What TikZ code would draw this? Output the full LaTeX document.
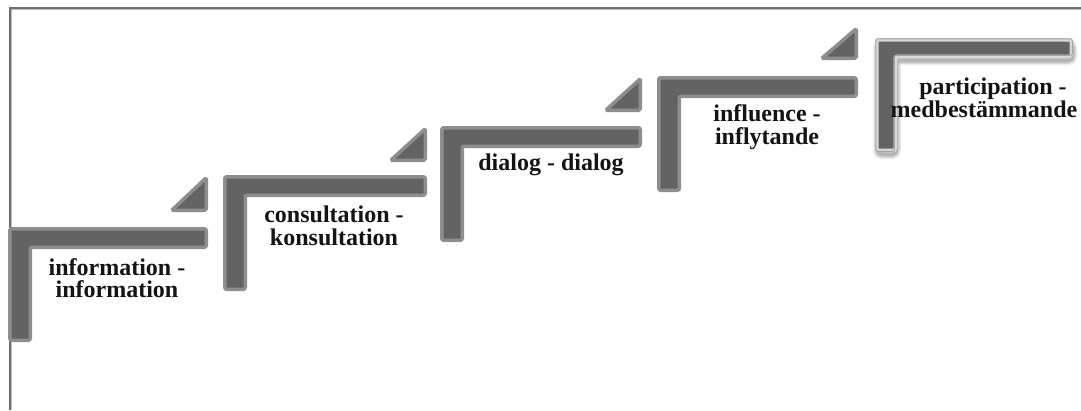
\documentclass[tikz,border=0pt]{standalone}
\usepackage{fontspec}
\setmainfont{Liberation Serif}
\definecolor{stepfill}{HTML}{636363}
\definecolor{stepline}{HTML}{8E8E8E}
\definecolor{framec}{HTML}{6E6E6E}
\definecolor{txt}{HTML}{141414}
\newcommand\stairpath[5]{% x0 y0 x1 y2 w/h inset 1.75
  (#1+1.75,#2+1.75) -- (#3-1.75,#2+1.75) -- (#3-1.75,#2+#5-1.75) -- (#1+#5+2-1.75,#2+#5-1.75) -- (#1+#5+2-1.75,#4-1.75) -- (#1+1.75,#4-1.75) -- cycle}
\newcommand\tripath[3]{% x1 ytop ybottom
  (#1-38+1.75,#3-1.75) -- (#1-1.75,#3-1.75) -- (#1-1.75,#2+1.75) -- cycle}
\tikzset{
  stairbox/.style={fill=stepfill, draw=stepline, line width=3.5pt, rounded corners=2pt},
  stairsel/.style={fill=stepfill, draw=black!15, line width=3.5pt, rounded corners=2pt},
  glowline/.style={draw=black, rounded corners=4pt},
  lbl/.style={align=center, text=txt, inner sep=0pt,
    font=\fontsize{24}{22.5}\selectfont\bfseries},
}
\begin{document}
\begin{tikzpicture}[x=1pt,y=-1pt]
\useasboundingbox (0,0) rectangle (1081,410);
\fill[white] (0,0) rectangle (1081,410);
% frame
\draw[framec, line width=2pt] (9.5,410) -- (9.5,7.5) -- (1081,7.5);
\draw[black!25, line width=1pt] (11,410) -- (11,9) -- (1081,9);
% steps
\path[stairbox] \stairpath{8}{227}{208}{342}{22};
\path[stairbox] \stairpath{223}{175}{427}{291}{22};
\path[stairbox] \stairpath{440}{126}{642}{242}{22};
\path[stairbox] \stairpath{657}{76}{858}{192}{22};
% selected step with soft shadow
\begin{scope}[shift={(1,4)}]
\path[glowline, line width=10pt, opacity=0.07] \stairpath{875}{38}{1073}{152}{20};
\path[glowline, line width=7pt, opacity=0.10] \stairpath{875}{38}{1073}{152}{20};
\path[glowline, line width=4pt, opacity=0.15] \stairpath{875}{38}{1073}{152}{20};
\end{scope}
\path[stairsel] \stairpath{875}{38}{1073}{152}{20};
\draw[stepline!80, line width=1pt, rounded corners=2pt] \stairpath{874}{37}{1074}{153}{20};
% triangles
\path[stairbox, rounded corners=1.5pt] \tripath{208}{176}{212};
\path[stairbox, rounded corners=1.5pt] \tripath{427}{127}{162};
\path[stairbox, rounded corners=1.5pt] \tripath{642}{77}{112};
\path[stairbox, rounded corners=1.5pt] \tripath{858}{27}{60};
% labels
\node[lbl] (t1) at (117,278) {information -\\information};
\node[lbl] (t2) at (334,226) {consultation -\\konsultation};
\node[lbl] (t3) at (551,165) {dialog - dialog};
\node[lbl] (t4) at (767,127) {influence -\\inflytande};
\node[lbl, font=\fontsize{24}{20}\selectfont\bfseries] (t5) at (984,98) {\hspace*{18pt}participation -\\medbestämmande};
\end{tikzpicture}
\end{document}
